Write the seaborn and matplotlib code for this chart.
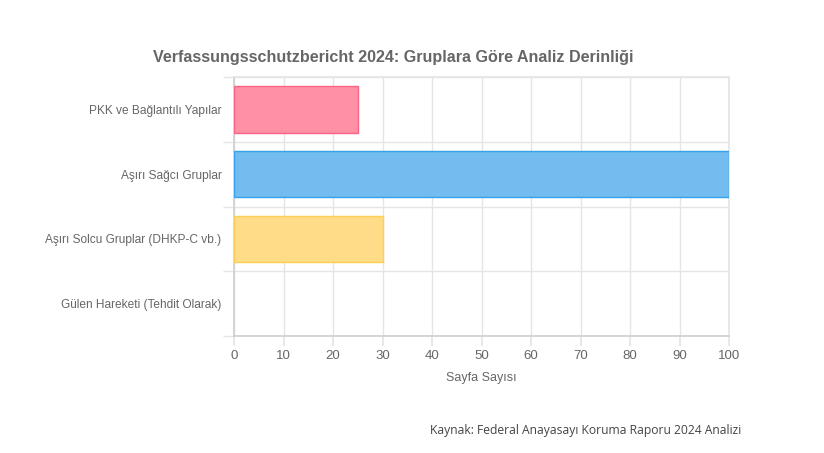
import pandas as pd
import numpy as np
import matplotlib
matplotlib.use('Agg')
import matplotlib.pyplot as plt
import seaborn as sns

# 数据
groups = ['PKK ve Bağlantılı Yapılar', 'Aşırı Sağcı Gruplar',
          'Aşırı Solcu Gruplar (DHKP-C vb.)', 'Gülen Hareketi (Tehdit Olarak)']
pages = [25, 100, 30, 0]
fill_colors = ['#FF90A6', '#72BCEF', '#FFDC88', '#D9D9D9']
edge_colors = ['#FF6384', '#36A2EB', '#FFCE56', '#C9CBCF']
x_ticks = list(range(0, 101, 10))

sns.set_theme(style='white')
plt.rcParams['font.family'] = ['Liberation Sans', 'DejaVu Sans']

df = pd.DataFrame({'grup': groups, 'sayfa': pages})

fig = plt.figure(figsize=(8.24, 4.53), dpi=100)
ax = fig.add_axes([0.284, 0.258, 0.601, 0.572])

sns.barplot(data=df, x='sayfa', y='grup', hue='grup', palette=fill_colors,
            saturation=1, orient='h', width=0.72, legend=False, ax=ax, zorder=3)
for patch, ec, v in zip(ax.patches, edge_colors, pages):
    patch.set_edgecolor(ec)
    patch.set_linewidth(1 if v > 0 else 0)

ax.set_xlim(0, 100)
ax.set_ylim(3.5, -0.5)
ax.set_xticks(x_ticks)
ax.set_yticks(range(len(groups)))
ax.set_yticks(np.arange(-0.5, len(groups), 1), minor=True)

ax.grid(True, axis='x', which='major', color='#E5E5E5', linewidth=1, zorder=0)
ax.grid(True, axis='y', which='minor', color='#E5E5E5', linewidth=1, zorder=0)
ax.grid(False, axis='y', which='major')

# 顶部和右侧用网格颜色
ax.spines['top'].set_color('#E5E5E5')
ax.spines['right'].set_color('#E5E5E5')
ax.spines['left'].set_color('#D0D0D0')
ax.spines['bottom'].set_color('#D0D0D0')

ax.tick_params(axis='y', which='major', length=0, pad=9, labelsize=8.6, labelcolor='#666666')
ax.tick_params(axis='y', which='minor', length=8, color='#E5E5E5', left=True)
ax.tick_params(axis='x', which='major', length=7, color='#E5E5E5', labelsize=9.5,
               labelcolor='#666666', pad=3, bottom=True)

ax.set_ylabel('')
ax.set_xlabel('Sayfa Sayısı', fontsize=9, color='#666666', labelpad=7)

fig.text(0.477, 0.872, 'Verfassungsschutzbericht 2024: Gruplara Göre Analiz Derinliği',
         ha='center', va='center', fontsize=11.6, fontweight='bold', color='#666666')
fig.text(0.9, 0.05, 'Kaynak: Federal Anayasayı Koruma Raporu 2024 Analizi',
         ha='right', va='center', fontsize=8.7, color='#444444', family=['Open Sans', 'DejaVu Sans'])

fig.savefig('out.png', dpi=100)
